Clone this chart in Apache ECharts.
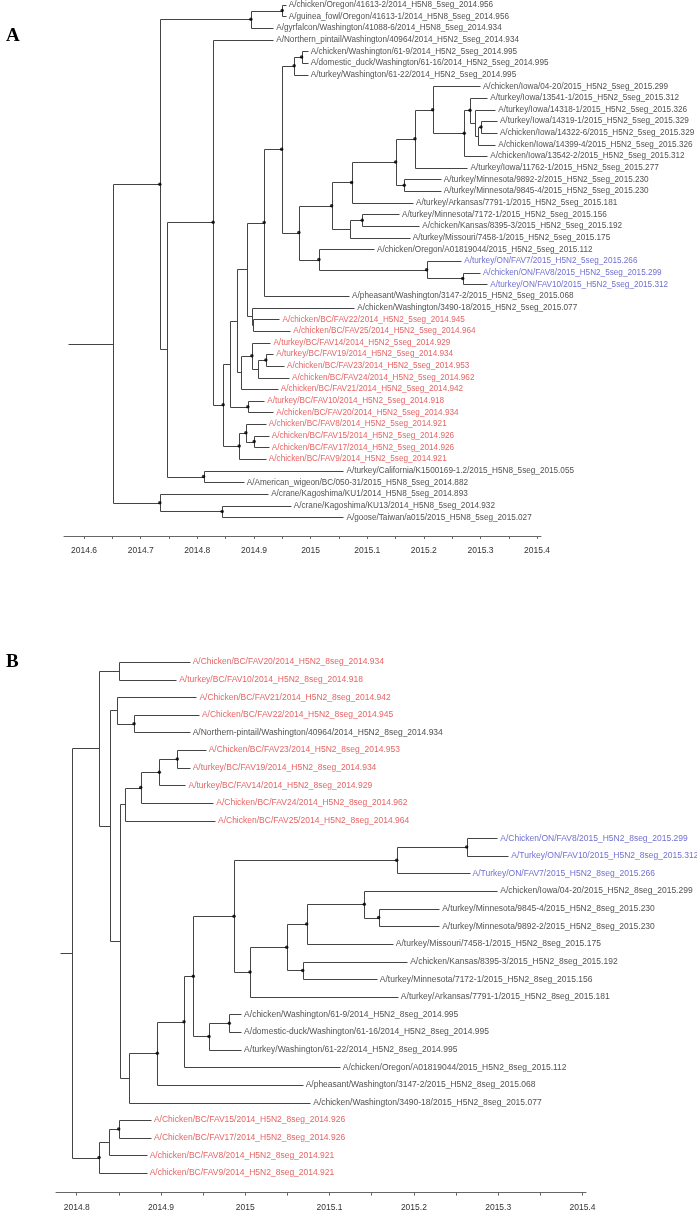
<!DOCTYPE html>
<html><head><meta charset="utf-8">
<script src="https://cdn.jsdelivr.net/npm/echarts@6/dist/echarts.min.js"></script>
<style>html,body{margin:0;padding:0;background:#fff}#c{width:697px;height:1213px}</style>
</head><body><div id="c"></div>
<script>
// ---------- Panel A (5 segments) ----------
const leafNamesA = [
'A/chicken/Oregon/41613-2/2014_H5N8_5seg_2014.956',
'A/guinea_fowl/Oregon/41613-1/2014_H5N8_5seg_2014.956',
'A/gyrfalcon/Washington/41088-6/2014_H5N8_5seg_2014.934',
'A/Northern_pintail/Washington/40964/2014_H5N2_5seg_2014.934',
'A/chicken/Washington/61-9/2014_H5N2_5seg_2014.995',
'A/domestic_duck/Washington/61-16/2014_H5N2_5seg_2014.995',
'A/turkey/Washington/61-22/2014_H5N2_5seg_2014.995',
'A/chicken/Iowa/04-20/2015_H5N2_5seg_2015.299',
'A/turkey/Iowa/13541-1/2015_H5N2_5seg_2015.312',
'A/turkey/Iowa/14318-1/2015_H5N2_5seg_2015.326',
'A/turkey/Iowa/14319-1/2015_H5N2_5seg_2015.329',
'A/chicken/Iowa/14322-6/2015_H5N2_5seg_2015.329',
'A/chicken/Iowa/14399-4/2015_H5N2_5seg_2015.326',
'A/chicken/Iowa/13542-2/2015_H5N2_5seg_2015.312',
'A/turkey/Iowa/11762-1/2015_H5N2_5seg_2015.277',
'A/turkey/Minnesota/9892-2/2015_H5N2_5seg_2015.230',
'A/turkey/Minnesota/9845-4/2015_H5N2_5seg_2015.230',
'A/turkey/Arkansas/7791-1/2015_H5N2_5seg_2015.181',
'A/turkey/Minnesota/7172-1/2015_H5N2_5seg_2015.156',
'A/chicken/Kansas/8395-3/2015_H5N2_5seg_2015.192',
'A/turkey/Missouri/7458-1/2015_H5N2_5seg_2015.175',
'A/chicken/Oregon/A01819044/2015_H5N2_5seg_2015.112',
'A/turkey/ON/FAV7/2015_H5N2_5seg_2015.266',
'A/chicken/ON/FAV8/2015_H5N2_5seg_2015.299',
'A/turkey/ON/FAV10/2015_H5N2_5seg_2015.312',
'A/pheasant/Washington/3147-2/2015_H5N2_5seg_2015.068',
'A/chicken/Washington/3490-18/2015_H5N2_5seg_2015.077',
'A/chicken/BC/FAV22/2014_H5N2_5seg_2014.945',
'A/chicken/BC/FAV25/2014_H5N2_5seg_2014.964',
'A/turkey/BC/FAV14/2014_H5N2_5seg_2014.929',
'A/turkey/BC/FAV19/2014_H5N2_5seg_2014.934',
'A/chicken/BC/FAV23/2014_H5N2_5seg_2014.953',
'A/chicken/BC/FAV24/2014_H5N2_5seg_2014.962',
'A/chicken/BC/FAV21/2014_H5N2_5seg_2014.942',
'A/turkey/BC/FAV10/2014_H5N2_5seg_2014.918',
'A/chicken/BC/FAV20/2014_H5N2_5seg_2014.934',
'A/chicken/BC/FAV8/2014_H5N2_5seg_2014.921',
'A/chicken/BC/FAV15/2014_H5N2_5seg_2014.926',
'A/chicken/BC/FAV17/2014_H5N2_5seg_2014.926',
'A/chicken/BC/FAV9/2014_H5N2_5seg_2014.921',
'A/turkey/California/K1500169-1.2/2015_H5N8_5seg_2015.055',
'A/American_wigeon/BC/050-31/2015_H5N8_5seg_2014.882',
'A/crane/Kagoshima/KU1/2014_H5N8_5seg_2014.893',
'A/crane/Kagoshima/KU13/2014_H5N8_5seg_2014.932',
'A/goose/Taiwan/a015/2015_H5N8_5seg_2015.027'];
// tip positions (years)
const leafTimesA = [2014.956,2014.956,2014.934,2014.934,2014.995,2014.995,2014.995,
2015.299,2015.312,2015.326,2015.329,2015.329,2015.326,2015.312,2015.277,2015.230,2015.230,
2015.181,2015.156,2015.192,2015.175,2015.112,2015.266,2015.299,2015.312,2015.068,2015.077,
2014.945,2014.964,2014.929,2014.934,2014.953,2014.962,2014.942,2014.918,2014.934,2014.921,
2014.926,2014.926,2014.921,2015.058,2014.882,2014.925,2014.965,2015.058];
const leafGroupA = ['k','k','k','k','k','k','k','k','k','k','k','k','k','k','k','k','k','k','k','k','k','k',
'b','b','b','k','k','r','r','r','r','r','r','r','r','r','r','r','r','r','k','k','k','k','k'];
const nodeTimesA = [2014.9498,2014.8945,2014.9841,2014.9710,2015.3009,2015.2961,2015.2903,2015.2815,
2015.2714,2015.2155,2015.1843,2015.1654,2015.1502,2015.0724,2015.0912,2015.0694,2015.0371,2015.2686,
2015.2049,2015.0147,2014.9793,2014.9488,2014.9180,2014.8986,2014.8958,2014.8880,2014.9210,2014.9069,
2014.8963,2014.8769,2014.8693,2014.8892,2014.8580,2014.9004,2014.8857,2014.8739,2014.8456,2014.8279,
2014.8110,2014.7456,2014.7337,2014.8438,2014.7337,2014.6502];
const nodeKidsA = [[0,1],['n0',2],[4,5],['n2',6],[10,11],['n4',12],[9,'n5'],[8,'n6'],['n7',13],[7,'n8'],
['n9',14],[15,16],['n10','n11'],['n12',17],[18,19],['n14',20],['n13','n15'],[23,24],[22,'n17'],[21,'n18'],
['n16','n19'],['n3','n20'],['n21',25],[27,28],[26,'n23'],['n22','n24'],[30,31],['n26',32],[29,'n27'],
['n28',33],['n25','n29'],[34,35],['n30','n31'],[37,38],[36,'n33'],['n34',39],['n32','n35'],[3,'n36'],
[40,41],['n37','n38'],['n1','n39'],[43,44],[42,'n41'],['n40','n42']];
const nodeDotA = [1,1,1,1,1,0,0,1,1,1,1,1,1,1,1,0,1,1,1,1,1,1,1,0,0,0,1,0,1,0,0,1,0,1,1,1,1,1,1,0,1,1,1,0];
const rootStartA = 2014.5712;
const tickLabelsA = [2014.6,2014.7,2014.8,2014.9,2015.0,2015.1,2015.2,2015.3,2015.4];
const tickMarksA = [2014.6,2014.65,2014.7,2014.75,2014.8,2014.85,2014.9,2014.95,2015.0,2015.05,2015.1,2015.15,2015.2,2015.25,2015.3,2015.35,2015.4];

// ---------- Panel B (8 segments) ----------
const leafNamesB = [
'A/Chicken/BC/FAV20/2014_H5N2_8seg_2014.934',
'A/turkey/BC/FAV10/2014_H5N2_8seg_2014.918',
'A/Chicken/BC/FAV21/2014_H5N2_8seg_2014.942',
'A/Chicken/BC/FAV22/2014_H5N2_8seg_2014.945',
'A/Northern-pintail/Washington/40964/2014_H5N2_8seg_2014.934',
'A/Chicken/BC/FAV23/2014_H5N2_8seg_2014.953',
'A/turkey/BC/FAV19/2014_H5N2_8seg_2014.934',
'A/turkey/BC/FAV14/2014_H5N2_8seg_2014.929',
'A/Chicken/BC/FAV24/2014_H5N2_8seg_2014.962',
'A/Chicken/BC/FAV25/2014_H5N2_8seg_2014.964',
'A/Chicken/ON/FAV8/2015_H5N2_8seg_2015.299',
'A/Turkey/ON/FAV10/2015_H5N2_8seg_2015.312',
'A/Turkey/ON/FAV7/2015_H5N2_8seg_2015.266',
'A/chicken/Iowa/04-20/2015_H5N2_8seg_2015.299',
'A/turkey/Minnesota/9845-4/2015_H5N2_8seg_2015.230',
'A/turkey/Minnesota/9892-2/2015_H5N2_8seg_2015.230',
'A/turkey/Missouri/7458-1/2015_H5N2_8seg_2015.175',
'A/chicken/Kansas/8395-3/2015_H5N2_8seg_2015.192',
'A/turkey/Minnesota/7172-1/2015_H5N2_8seg_2015.156',
'A/turkey/Arkansas/7791-1/2015_H5N2_8seg_2015.181',
'A/chicken/Washington/61-9/2014_H5N2_8seg_2014.995',
'A/domestic-duck/Washington/61-16/2014_H5N2_8seg_2014.995',
'A/turkey/Washington/61-22/2014_H5N2_8seg_2014.995',
'A/chicken/Oregon/A01819044/2015_H5N2_8seg_2015.112',
'A/pheasant/Washington/3147-2/2015_H5N2_8seg_2015.068',
'A/chicken/Washington/3490-18/2015_H5N2_8seg_2015.077',
'A/Chicken/BC/FAV15/2014_H5N2_8seg_2014.926',
'A/Chicken/BC/FAV17/2014_H5N2_8seg_2014.926',
'A/chicken/BC/FAV8/2014_H5N2_8seg_2014.921',
'A/chicken/BC/FAV9/2014_H5N2_8seg_2014.921'];
const leafTimesB = [2014.934,2014.918,2014.942,2014.945,2014.934,2014.953,2014.934,2014.929,2014.962,2014.964,
2015.299,2015.312,2015.266,2015.299,2015.230,2015.230,2015.175,2015.192,2015.156,2015.181,
2014.995,2014.995,2014.995,2015.112,2015.068,2015.077,2014.888,2014.888,2014.883,2014.883];
const leafGroupB = ['r','r','r','r','k','r','r','r','r','r','b','b','b','k','k','k','k','k','k','k',
'k','k','k','k','k','k','r','r','r','r'];
const nodeTimesB = [2014.8502,2014.8680,2014.8482,2014.9193,2014.8980,2014.8759,2014.8577,2015.2626,
2015.1796,2015.1582,2015.1412,2015.0728,2015.0681,2015.0491,2015.0056,2014.9866,2014.9810,2014.9569,
2014.9383,2014.9273,2014.8956,2014.8620,2014.8514,2014.8395,2014.8265,2014.8498,2014.8387,2014.8265,2014.7948];
const nodeKidsB = [[0,1],[3,4],[2,'n1'],[5,6],['n3',7],['n4',8],['n5',9],[10,11],['n7',12],[14,15],[13,'n9'],
['n10',16],[17,18],['n11','n12'],['n13',19],['n8','n14'],[20,21],['n16',22],['n15','n17'],['n18',23],
['n19',24],['n20',25],['n6','n21'],['n2','n22'],['n0','n23'],[26,27],['n25',28],['n26',29],['n24','n27']];
const nodeDotB = [0,1,0,1,1,1,0,1,1,1,1,1,1,1,1,1,1,1,1,1,1,0,0,0,0,1,0,1,0];
const rootStartB = 2014.7802;
const tickLabelsB = [2014.8,2014.9,2015.0,2015.1,2015.2,2015.3,2015.4];
const tickMarksB = [2014.8,2014.85,2014.9,2014.95,2015.0,2015.05,2015.1,2015.15,2015.2,2015.25,2015.3,2015.35,2015.4];

// ---------- build ----------
function buildTree(leafTimes, nodeTimes, nodeKids, nodeDot, rootStart){
  const nodeY = [];
  const idx = r => +String(r).slice(1);
  function yOf(r){
    if (typeof r === 'number') return r;
    const k = idx(r);
    if (nodeY[k] === undefined){ const kids = nodeKids[k]; nodeY[k] = (yOf(kids[0]) + yOf(kids[kids.length-1]))/2; }
    return nodeY[k];
  }
  const tOf = r => typeof r === 'number' ? leafTimes[r] : nodeTimes[idx(r)];
  const segs = [], dots = [];
  nodeKids.forEach((kids,k)=>{
    const t = nodeTimes[k];
    const ys = kids.map(yOf);
    segs.push([t, Math.min(...ys), t, Math.max(...ys)]);
    kids.forEach(c => segs.push([t, yOf(c), tOf(c), yOf(c)]));
    if (nodeDot[k]) dots.push([t, yOf('n'+k)]);
  });
  const root = nodeKids.length-1;
  segs.push([rootStart, yOf('n'+root), nodeTimes[root], yOf('n'+root)]);
  return {segs, dots};
}
const colorMap = {k:'#1e1e1e', r:'#e03b3b', b:'#4b4bc6'};
const FONT = 'Liberation Sans, Arial, sans-serif';
const treeA = buildTree(leafTimesA, nodeTimesA, nodeKidsA, nodeDotA, rootStartA);
const treeB = buildTree(leafTimesB, nodeTimesB, nodeKidsB, nodeDotB, rootStartB);

const crisp = v => Math.round(v) + 0.5;
function segSeries(tree, ai){
  return {type:'custom', xAxisIndex:ai, yAxisIndex:ai, clip:false, silent:true,
    encode:{x:[0,2], y:[1,3]}, data: tree.segs,
    renderItem:(params, api)=>{
      const p1 = api.coord([api.value(0), api.value(1)]);
      const p2 = api.coord([api.value(2), api.value(3)]);
      return {type:'line', shape:{x1:crisp(p1[0]), y1:crisp(p1[1]), x2:crisp(p2[0]), y2:crisp(p2[1])},
        style:{stroke:'#444', lineWidth:1}};
    }};
}
function dotSeries(tree, ai){
  return {type:'scatter', xAxisIndex:ai, yAxisIndex:ai, symbol:'circle', symbolSize:3.5, silent:true,
    itemStyle:{color:'#000'}, data: tree.dots, z:5};
}
function labelSeries(names, times, groups, ai, fs){
  return {type:'scatter', xAxisIndex:ai, yAxisIndex:ai, symbolSize:1, silent:true,
    itemStyle:{color:'rgba(0,0,0,0)'},
    data: names.map((n,i)=>({name:n, value:[times[i], i], label:{color:colorMap[groups[i]]}})),
    label:{show:true, position:'right', distance:2.5, formatter:'{b}', fontSize:fs, fontFamily:FONT},
    labelLayout:{hideOverlap:false}};
}
const fmt = v => String(Math.round(v*10)/10);
function xAx(gi, min, max, labels, marks){
  return {type:'value', gridIndex:gi, min, max, splitLine:{show:false}, position:'bottom',
    axisLine:{show:true, onZero:false, lineStyle:{color:'#666', width:1}},
    axisTick:{show:true, customValues:marks, length:3, lineStyle:{color:'#666'}},
    axisLabel:{show:true, customValues:labels, formatter:fmt, fontSize:8.5, color:'#333', margin:10, fontFamily:FONT}};
}
const option = {
  animation:false, backgroundColor:'#fff',
  grid:[{left:64, top:0, width:477, height:536},
        {left:56, top:620, width:530, height:572.7}],
  xAxis:[xAx(0, 2014.5645, 2015.4069, tickLabelsA, tickMarksA),
         xAx(1, 2014.7754, 2015.4042, tickLabelsB, tickMarksB)],
  yAxis:[{type:'value', gridIndex:0, inverse:true, min:-0.4034, max:45.605, show:false},
         {type:'value', gridIndex:1, inverse:true, min:-2.384, max:30.117, show:false}],
  graphic:[
    {type:'text', left:6, top:27, style:{text:'A', font:'bold 19px "Liberation Serif", serif', fill:'#000'}},
    {type:'text', left:6, top:653, style:{text:'B', font:'bold 19px "Liberation Serif", serif', fill:'#000'}}
  ],
  series:[segSeries(treeA,0), dotSeries(treeA,0), labelSeries(leafNamesA, leafTimesA, leafGroupA, 0, 8.2),
          segSeries(treeB,1), dotSeries(treeB,1), labelSeries(leafNamesB, leafTimesB, leafGroupB, 1, 8.5)]
};
const chart = echarts.init(document.getElementById('c'), null, {renderer:'canvas'});
chart.setOption(option);
</script></body></html>
